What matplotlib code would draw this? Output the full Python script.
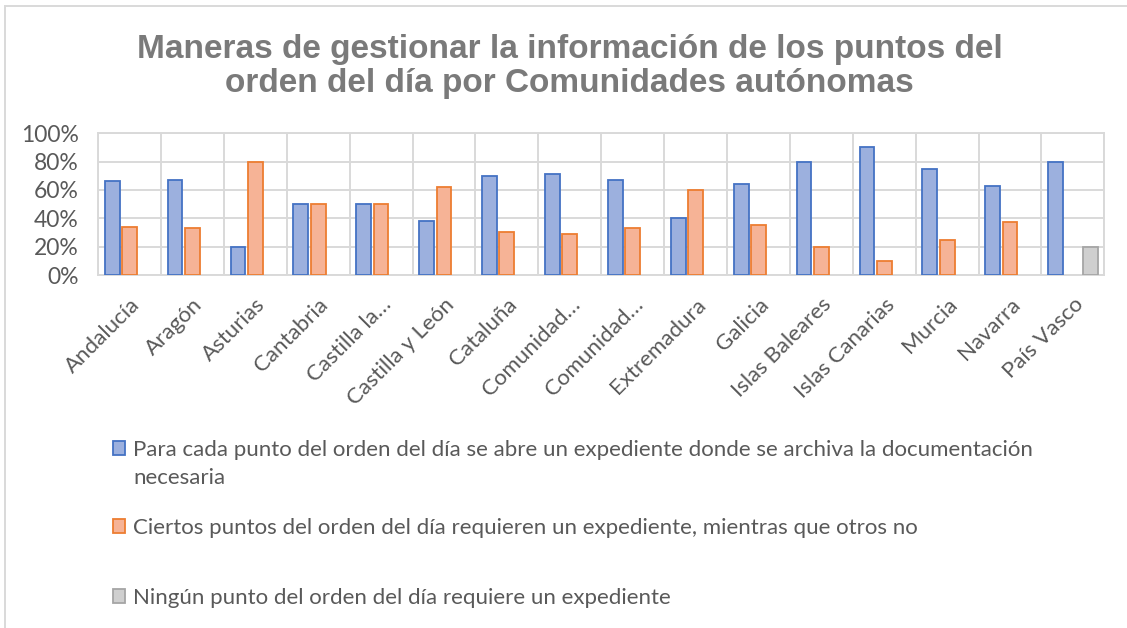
import matplotlib
matplotlib.use("Agg")
import matplotlib.pyplot as plt
from matplotlib.patches import Rectangle
import numpy as np

comunidades = ["Andalucía", "Aragón", "Asturias", "Cantabria", "Castilla la…",
               "Castilla y León", "Cataluña", "Comunidad…", "Comunidad…",
               "Extremadura", "Galicia", "Islas Baleares", "Islas Canarias",
               "Murcia", "Navarra", "País Vasco"]
expediente_cada_punto = [66, 67, 20, 50, 50, 38, 70, 71, 67, 40, 64.5, 80, 90, 75, 62.5, 80]
expediente_algunos = [34, 33, 80, 50, 50, 62, 30, 29, 33, 60, 35.5, 20, 10, 25, 37.5, 0]
ningun_expediente = [0, 0, 0, 0, 0, 0, 0, 0, 0, 0, 0, 0, 0, 0, 0, 20]

series_labels = [
    "Para cada punto del orden del día se abre un expediente donde se archiva la documentación",
    "Ciertos puntos del orden del día requieren un expediente, mientras que otros no",
    "Ningún punto del orden del día requiere un expediente",
]
y_ticks = [0, 20, 40, 60, 80, 100]

fills = ["#9cb0de", "#f6b396", "#cfcfcf"]
edges = ["#4472c4", "#ed7d31", "#a5a5a5"]
txt = "#595959"
grid_c = "#d9d9d9"

fig = plt.figure(figsize=(11.27, 6.28), dpi=100)
ax = fig.add_axes([0.0870, 0.5621, 0.8929, 0.2256])

x = np.arange(len(comunidades))
w = 0.235
offsets = [-0.275, 0.0, 0.275]
data = [expediente_cada_punto, expediente_algunos, ningun_expediente]
handles = []
for k in range(3):
    vals = np.array(data[k])
    keep = vals > 0
    ax.bar(x[keep] + offsets[k], vals[keep], width=w, color=fills[k],
           edgecolor=edges[k], linewidth=1.3, zorder=3)
    handles.append(Rectangle((0, 0), 1, 1, facecolor=fills[k], edgecolor=edges[k], linewidth=1.3))

ax.set_xlim(-0.5, len(comunidades) - 0.5)
ax.set_ylim(0, 100)
ax.set_yticks(y_ticks)
ax.set_yticklabels([f"{v}%" for v in y_ticks], fontsize=16.5, color=txt, family="Lato")
ax.set_xticks(x)
ax.set_xticklabels(comunidades, rotation=45, ha="right", rotation_mode="anchor",
                   fontsize=16, color=txt, family="Lato")
ax.set_xticks(np.arange(-0.5, len(comunidades)), minor=True)
ax.tick_params(axis="both", which="both", length=0)
ax.tick_params(axis="x", which="major", pad=14)
ax.tick_params(axis="y", pad=14)
ax.grid(axis="y", which="major", color=grid_c, linewidth=1.4, zorder=0)
ax.grid(axis="x", which="minor", color=grid_c, linewidth=1.4, zorder=0)
for s in ax.spines.values():
    s.set_color(grid_c)
    s.set_linewidth(1.4)

fig.text(0.5053, 0.946, "Maneras de gestionar la información de los puntos del\norden del día por Comunidades autónomas",
         ha="center", va="top", fontsize=24, fontweight="bold", color="#7a7a7a",
         family="Liberation Sans", linespacing=1.12)

# legend, one entry per block like the original
leg_y = [0.2834, 0.1592, 0.0478]
leg_labels = [series_labels[0], series_labels[1], series_labels[2]]
for k in range(3):
    lg = fig.legend(handles=[handles[k]], labels=[leg_labels[k]], loc="center left",
                    bbox_to_anchor=(0.1003, leg_y[k]), frameon=False, borderpad=0,
                    borderaxespad=0, handlelength=0.55, handleheight=0.55,
                    handletextpad=0.33, prop={"family": "Lato", "size": 16})
    for t in lg.get_texts():
        t.set_color(txt)
fig.text(0.118, 0.2389, "necesaria", ha="left", va="center", fontsize=16,
         color=txt, family="Lato")

# chart area border
fig.add_artist(Rectangle((5 / 1127, -0.01), 1.02, 1 - 6 / 628 + 0.01, transform=fig.transFigure,
                         fill=False, edgecolor=grid_c, linewidth=1.4))

fig.savefig("out.png", dpi=100)
